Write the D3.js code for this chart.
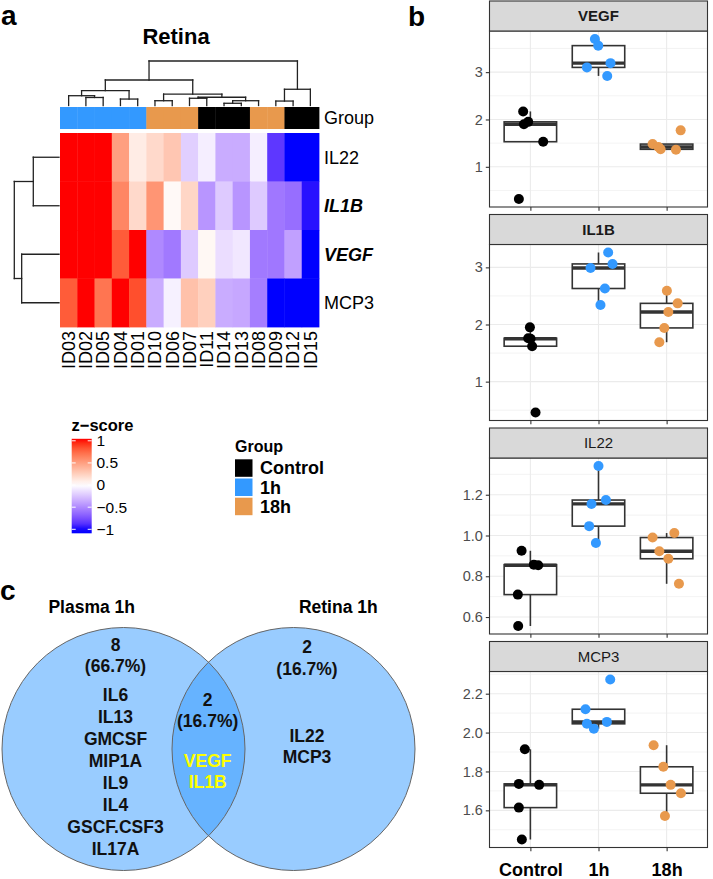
<!DOCTYPE html>
<html>
<head>
<meta charset="utf-8">
<script src="https://cdn.jsdelivr.net/npm/d3@7"></script>
<style>
  body { margin: 0; background: #fff; }
  svg text { font-family: "Liberation Sans", Arial, Helvetica, sans-serif; }
</style>
</head>
<body>
<div id="plot"></div>
<script>
// ---- panel a: heatmap data ----
const sampleIds = ['ID03', 'ID02', 'ID05', 'ID04', 'ID01', 'ID10', 'ID06', 'ID07', 'ID11', 'ID14', 'ID13', 'ID08', 'ID09', 'ID12', 'ID15'];
const sampleGroups = ['1h', '1h', '1h', '1h', '1h', '18h', '18h', '18h', 'Control', 'Control', 'Control', '18h', '18h', 'Control', 'Control'];
const heatGenes = ['IL22', 'IL1B', 'VEGF', 'MCP3'];
const heatGenesBold = ['IL1B', 'VEGF'];
const zIL22 = [1, 1, 1, 0.5, 0.1, 0.2, 0.3, -0.2, -0.07, -0.35, -0.35, -0.07, -0.85, -1, -1];
const zIL1B = [1, 1, 1, 0.62, 0.2, 0.55, 0.03, 0.22, -0.45, -0.22, -0.45, -0.22, -0.58, -0.62, -0.97];
const zVEGF = [1, 1, 1, 0.8, 1, -0.5, -0.57, -0.22, 0.04, -0.14, -0.1, -0.57, -0.58, -0.4, -1];
const zMCP3 = [0.8, 1, 0.7, 1, 0.85, -0.35, -0.06, 0.33, 0.25, -0.35, -0.37, -0.55, -1, -1, -1];
// merges: [childA, childB, height]; a number refers to an earlier merge
const colMerges = [
    ['ID02', 'ID05', 0.72], ['ID03', 0, 0.88], ['ID04', 'ID01', 0.58], [1, 2, 1.33],
    ['ID10', 'ID06', 0.43], ['ID07', 'ID11', 0.65], ['ID14', 'ID13', 0.2], [6, 'ID08', 0.43],
    [5, 7, 0.74], [4, 8, 1.03], [3, 9, 2.29], ['ID09', 'ID12', 0.4], [11, 'ID15', 1.46], [10, 12, 4.0]
];
const rowMerges = [['IL22', 'IL1B', 2.3], ['VEGF', 'MCP3', 3.34], [0, 1, 4.0]];
const groupLevels = ['Control', '1h', '18h'];
const groupColors = ['#000000', '#3399ff', '#e8994d'];
const zBreaks = [1, 0.5, 0, -0.5, -1];

// ---- panel b: boxplot data ----
const boxGenes = ['VEGF', 'IL1B', 'IL22', 'MCP3'];
const stripBold = [true, true, false, false];
const vegfValues = [[2.17, 1.95, 1.90, 1.53, 0.32], [3.70, 3.56, 3.10, 3.19, 2.92], [1.48, 1.37, 1.77, 1.36, 1.42]];
const vegfJitter = [[-0.106, -0.032, -0.095, 0.188, -0.169], [-0.053, -0.004, -0.17, 0.176, 0.128], [-0.206, -0.088, 0.206, 0.137, -0.12]];
const il1bValues = [[1.95, 1.76, 1.75, 1.62, 0.46], [3.26, 3.06, 2.99, 2.63, 2.34], [2.59, 2.37, 2.22, 1.94, 1.69]];
const il1bJitter = [[-0.007, -0.032, 0.003, 0.026, 0.076], [0.142, 0.206, -0.117, 0.094, 0.029], [0.004, 0.162, 0.025, -0.034, -0.107]];
const il22Values = [[0.925, 0.857, 0.854, 0.71, 0.556], [1.341, 1.174, 1.155, 1.046, 0.963], [1.012, 0.99, 0.923, 0.886, 0.763]];
const il22Jitter = [[-0.129, 0.051, 0.115, -0.184, -0.179], [0, 0.109, -0.103, -0.137, -0.038], [0.113, -0.206, -0.107, 0.025, 0.181]];
const mcp3Values = [[1.914, 1.736, 1.731, 1.614, 1.45], [2.273, 2.12, 2.045, 2.055, 2.02], [1.935, 1.824, 1.731, 1.688, 1.571]];
const mcp3Jitter = [[-0.081, -0.169, 0.129, -0.169, -0.125], [0.172, -0.191, -0.17, 0.123, -0.068], [-0.191, -0.048, 0.059, 0.21, -0.025]];
const vegfTicks = [1, 2, 3];
const il1bTicks = [1, 2, 3];
const il22Ticks = [0.6, 0.8, 1.0, 1.2];
const mcp3Ticks = [1.6, 1.8, 2.0, 2.2];
const vegfTickLabels = ['1', '2', '3'];
const il1bTickLabels = ['1', '2', '3'];
const il22TickLabels = ['0.6', '0.8', '1.0', '1.2'];
const mcp3TickLabels = ['1.6', '1.8', '2.0', '2.2'];

// ---- panel c: venn data ----
const vennSets = ['Plasma 1h', 'Retina 1h'];
const plasmaOnly = ['IL6', 'IL13', 'GMCSF', 'MIP1A', 'IL9', 'IL4', 'GSCF.CSF3', 'IL17A'];
const sharedGenes = ['VEGF', 'IL1B'];
const retinaOnly = ['IL22', 'MCP3'];

const svg = d3.select('#plot').append('svg')
    .attr('width', 713)
    .attr('height', 879);

// panel letters
[['a', 1, 25], ['b', 408, 26], ['c', 0, 600]].forEach(([t, x, y]) => {
    svg.append('text').attr('x', x).attr('y', y).attr('font-size', 28)
        .attr('font-weight', 'bold').text(t);
});

// ================= panel a =================
const heatX = d3.scaleBand().domain(sampleIds).range([60, 319]);
const heatY = d3.scaleBand().domain(heatGenes).range([133, 327]);
const zColor = d3.scaleLinear().domain([-1, 0, 1]).range(['blue', 'white', 'red'])
    .interpolate(d3.interpolateLab).clamp(true);
const groupColor = d3.scaleOrdinal().domain(groupLevels).range(groupColors);
const zRows = [zIL22, zIL1B, zVEGF, zMCP3];

const cells = [];
heatGenes.forEach((g, r) => sampleIds.forEach((s, c) => cells.push({g, s, z: zRows[r][c]})));

svg.append('text').attr('x', 176).attr('y', 44).attr('text-anchor', 'middle')
    .attr('font-size', 22).attr('font-weight', 'bold').text('Retina');

svg.append('g').selectAll('rect').data(cells).join('rect')
    .attr('x', d => heatX(d.s))
    .attr('y', d => heatY(d.g))
    .attr('width', heatX.bandwidth() + 0.4)
    .attr('height', heatY.bandwidth() + 0.4)
    .attr('fill', d => zColor(d.z));

// group annotation bar
svg.append('g').selectAll('rect').data(sampleIds).join('rect')
    .attr('x', d => heatX(d))
    .attr('y', 107)
    .attr('width', heatX.bandwidth() + 0.4)
    .attr('height', 22)
    .attr('fill', (d, i) => groupColor(sampleGroups[i]));

svg.append('text').attr('x', 324).attr('y', 118).attr('dy', '0.35em')
    .attr('font-size', 18).text('Group');

svg.append('g').selectAll('text').data(heatGenes).join('text')
    .attr('x', 324)
    .attr('y', d => heatY(d) + heatY.bandwidth() / 2)
    .attr('dy', '0.35em')
    .attr('font-size', 18)
    .attr('font-weight', d => heatGenesBold.includes(d) ? 'bold' : 'normal')
    .attr('font-style', d => heatGenesBold.includes(d) ? 'italic' : 'normal')
    .text(d => d);

svg.append('g').selectAll('text').data(sampleIds).join('text')
    .attr('transform', d => `translate(${heatX(d) + heatX.bandwidth() / 2},331) rotate(-90)`)
    .attr('text-anchor', 'end')
    .attr('dy', '0.35em')
    .attr('font-size', 18)
    .text(d => d);

// dendrograms
function dendroSegments(merges, leafPos) {
    const nodes = [];
    const segs = [];
    const pos = c => typeof c === 'number' ? nodes[c].p : leafPos(c);
    const ht = c => typeof c === 'number' ? nodes[c].h : 0;
    merges.forEach(([a, b, h]) => {
        const pa = pos(a), pb = pos(b);
        segs.push([pa, ht(a), pa, h], [pa, h, pb, h], [pb, h, pb, ht(b)]);
        nodes.push({p: (pa + pb) / 2, h});
    });
    return segs;
}

const colH = d3.scaleLinear().domain([0, 4]).range([105.5, 61]);
svg.append('g').selectAll('line')
    .data(dendroSegments(colMerges, s => heatX(s) + heatX.bandwidth() / 2))
    .join('line')
    .attr('x1', d => d[0]).attr('y1', d => colH(d[1]))
    .attr('x2', d => d[2]).attr('y2', d => colH(d[3]))
    .attr('stroke', '#222').attr('stroke-width', 1.3).attr('stroke-linecap', 'square');

const rowH = d3.scaleLinear().domain([0, 4]).range([59, 14.3]);
svg.append('g').selectAll('line')
    .data(dendroSegments(rowMerges, g => heatY(g) + heatY.bandwidth() / 2))
    .join('line')
    .attr('x1', d => rowH(d[1])).attr('y1', d => d[0])
    .attr('x2', d => rowH(d[3])).attr('y2', d => d[2])
    .attr('stroke', '#222').attr('stroke-width', 1.3).attr('stroke-linecap', 'square');

// z-score legend
const legY = d3.scaleLinear().domain([1, -1]).range([440.8, 529.3]);
const barTop = 438.8, barBottom = 533.3;
const grad = svg.append('defs').append('linearGradient')
    .attr('id', 'zgrad').attr('x1', 0).attr('y1', 0).attr('x2', 0).attr('y2', 1);
d3.range(0, 1.0001, 0.05).forEach(t => {
    grad.append('stop').attr('offset', t)
        .attr('stop-color', zColor(legY.invert(barTop + t * (barBottom - barTop))));
});
svg.append('text').attr('x', 71.5).attr('y', 430.5).attr('font-size', 16.5)
    .attr('font-weight', 'bold').text('z\u2212score');
svg.append('rect').attr('x', 71.7).attr('y', barTop).attr('width', 20)
    .attr('height', barBottom - barTop).attr('fill', 'url(#zgrad)');
const zTicks = svg.append('g').selectAll('g').data(zBreaks).join('g');
zTicks.append('line').attr('x1', 71.7).attr('x2', 75.7)
    .attr('y1', d => legY(d)).attr('y2', d => legY(d)).attr('stroke', '#fff');
zTicks.append('line').attr('x1', 87.7).attr('x2', 91.7)
    .attr('y1', d => legY(d)).attr('y2', d => legY(d)).attr('stroke', '#fff');
zTicks.append('text').attr('x', 96.5).attr('y', d => legY(d)).attr('dy', '0.35em')
    .attr('font-size', 15.5).text(d => d3.format('')(d));

// group legend
svg.append('text').attr('x', 235).attr('y', 451.7).attr('font-size', 16)
    .attr('font-weight', 'bold').text('Group');
const legG = svg.append('g').selectAll('g').data(groupLevels).join('g')
    .attr('transform', (d, i) => `translate(235,${459.3 + i * 19.2})`);
legG.append('rect').attr('width', 17.5).attr('height', 17.5).attr('fill', d => groupColor(d));
legG.append('text').attr('x', 25).attr('y', 8.75).attr('dy', '0.35em')
    .attr('font-size', 18).attr('font-weight', 'bold').text(d => d);

// ================= panel b =================
const boxValues = [vegfValues, il1bValues, il22Values, mcp3Values];
const boxJitter = [vegfJitter, il1bJitter, il22Jitter, mcp3Jitter];
const boxTicks = [vegfTicks, il1bTicks, il22Ticks, mcp3Ticks];
const boxTickLabels = [vegfTickLabels, il1bTickLabels, il22TickLabels, mcp3TickLabels];

const bx = {left: 489.5, right: 707.5, top0: 1, strip: 30, plot: 176, pitch: 213.5};
const xBox = d3.scalePoint().domain(groupLevels).range([bx.left, bx.right]).padding(0.6);
const step = xBox.step();

function boxStats(vals) {
    const s = vals.slice().sort(d3.ascending);
    const q1 = d3.quantileSorted(s, 0.25);
    const med = d3.quantileSorted(s, 0.5);
    const q3 = d3.quantileSorted(s, 0.75);
    const iqr = q3 - q1;
    const lo = d3.min(s.filter(v => v >= q1 - 1.5 * iqr));
    const hi = d3.max(s.filter(v => v <= q3 + 1.5 * iqr));
    return {q1, med, q3, lo, hi};
}

boxGenes.forEach((gene, p) => {
    const stripTop = bx.top0 + p * bx.pitch;
    const top = stripTop + bx.strip;
    const bottom = top + bx.plot;
    const all = boxValues[p].flat();
    const [mn, mx] = d3.extent(all);
    const pad = (mx - mn) * 0.05;
    const y = d3.scaleLinear().domain([mn - pad, mx + pad]).range([bottom, top]);
    const ticks = boxTicks[p];
    const tickStep = ticks[1] - ticks[0];
    const minor = d3.range(ticks[0] - tickStep / 2, mx + pad, tickStep)
        .filter(v => v > mn - pad && v < mx + pad);

    const g = svg.append('g');
    g.append('rect').attr('x', bx.left).attr('y', top).attr('width', bx.right - bx.left)
        .attr('height', bx.plot).attr('fill', '#fff');

    // grid
    g.selectAll('.minor').data(minor).join('line')
        .attr('x1', bx.left).attr('x2', bx.right)
        .attr('y1', d => y(d)).attr('y2', d => y(d))
        .attr('stroke', '#ebebeb').attr('stroke-width', 0.6);
    g.selectAll('.major').data(ticks).join('line')
        .attr('x1', bx.left).attr('x2', bx.right)
        .attr('y1', d => y(d)).attr('y2', d => y(d))
        .attr('stroke', '#ebebeb').attr('stroke-width', 1.1);
    g.selectAll('.vgrid').data(groupLevels).join('line')
        .attr('x1', d => xBox(d)).attr('x2', d => xBox(d))
        .attr('y1', top).attr('y2', bottom)
        .attr('stroke', '#ebebeb').attr('stroke-width', 1.1);

    // boxes
    const boxW = step * 0.77;
    groupLevels.forEach((grp, gi) => {
        const st = boxStats(boxValues[p][gi]);
        const cx = xBox(grp);
        g.append('line').attr('x1', cx).attr('x2', cx).attr('y1', y(st.q3)).attr('y2', y(st.hi))
            .attr('stroke', '#333').attr('stroke-width', 1.6);
        g.append('line').attr('x1', cx).attr('x2', cx).attr('y1', y(st.q1)).attr('y2', y(st.lo))
            .attr('stroke', '#333').attr('stroke-width', 1.6);
        g.append('rect').attr('x', cx - boxW / 2).attr('y', y(st.q3))
            .attr('width', boxW).attr('height', y(st.q1) - y(st.q3))
            .attr('fill', '#fff').attr('stroke', '#333').attr('stroke-width', 1.6);
        g.append('line').attr('x1', cx - boxW / 2).attr('x2', cx + boxW / 2)
            .attr('y1', y(st.med)).attr('y2', y(st.med))
            .attr('stroke', '#333').attr('stroke-width', 3.4);
    });

    // jittered points
    const pts = [];
    groupLevels.forEach((grp, gi) => boxValues[p][gi].forEach((v, k) =>
        pts.push({grp, v, j: boxJitter[p][gi][k]})));
    g.selectAll('circle').data(pts).join('circle')
        .attr('cx', d => xBox(d.grp) + d.j * step)
        .attr('cy', d => y(d.v))
        .attr('r', 5)
        .attr('fill', d => groupColor(d.grp));

    // panel border and strip
    g.append('rect').attr('x', bx.left).attr('y', top).attr('width', bx.right - bx.left)
        .attr('height', bx.plot).attr('fill', 'none').attr('stroke', '#333').attr('stroke-width', 1.1);
    g.append('rect').attr('x', bx.left).attr('y', stripTop).attr('width', bx.right - bx.left)
        .attr('height', bx.strip).attr('fill', '#d9d9d9').attr('stroke', '#333').attr('stroke-width', 1.1);
    g.append('text').attr('x', (bx.left + bx.right) / 2).attr('y', stripTop + bx.strip / 2)
        .attr('dy', '0.35em').attr('text-anchor', 'middle').attr('font-size', 15)
        .attr('font-weight', stripBold[p] ? 'bold' : 'normal').attr('fill', '#1a1a1a')
        .text(gene);

    // axes
    const yAxis = g.append('g').attr('transform', `translate(${bx.left},0)`)
        .call(d3.axisLeft(y).tickValues(ticks).tickFormat((d, i) => boxTickLabels[p][i])
            .tickSize(3.7).tickPadding(3));
    yAxis.select('.domain').remove();
    yAxis.selectAll('line').attr('stroke', '#333').attr('stroke-width', 1.1);
    yAxis.selectAll('text').attr('font-size', 14.5).attr('fill', '#4d4d4d')
        .attr('font-family', null);

    const last = p === boxGenes.length - 1;
    const xAxis = g.append('g').attr('transform', `translate(0,${bottom})`)
        .call(d3.axisBottom(xBox).tickSize(3.7).tickPadding(12.5)
            .tickFormat(d => last ? d : ''));
    xAxis.select('.domain').remove();
    xAxis.selectAll('line').attr('stroke', '#333').attr('stroke-width', 1.1);
    xAxis.selectAll('text').attr('font-size', 18).attr('font-weight', 'bold')
        .attr('fill', '#000').attr('font-family', null);
});

// ================= panel c =================
const total = plasmaOnly.length + sharedGenes.length + retinaOnly.length;
const pct = d3.format('.1%');
const circles = [{cx: 123.5, cy: 749, r: 121.5}, {cx: 293.5, cy: 749, r: 121.5}];

svg.append('g').selectAll('circle').data(circles).join('circle')
    .attr('cx', d => d.cx).attr('cy', d => d.cy).attr('r', d => d.r)
    .attr('fill', '#3399ff').attr('fill-opacity', 0.5);
svg.append('g').selectAll('circle').data(circles).join('circle')
    .attr('cx', d => d.cx).attr('cy', d => d.cy).attr('r', d => d.r)
    .attr('fill', 'none').attr('stroke', '#666').attr('stroke-width', 1);

svg.append('g').selectAll('text').data(vennSets).join('text')
    .attr('x', (d, i) => [91.7, 338.3][i]).attr('y', 613.3)
    .attr('text-anchor', 'middle').attr('font-size', 17.5).attr('font-weight', 'bold')
    .text(d => d);

const regions = [
    {genes: plasmaOnly, x: 115.5, countY: 650.7, genesY: 700.7, lineH: 22.1, color: '#111'},
    {genes: sharedGenes, x: 207.7, countY: 705.7, genesY: 766.7, lineH: 21.6, color: '#ffff00'},
    {genes: retinaOnly, x: 307, countY: 653.3, genesY: 741.7, lineH: 21, color: '#111'}
];
regions.forEach(r => {
    const g = svg.append('g').attr('text-anchor', 'middle').attr('font-size', 17.5)
        .attr('font-weight', 'bold');
    g.append('text').attr('x', r.x).attr('y', r.countY).attr('fill', '#111')
        .text(r.genes.length);
    g.append('text').attr('x', r.x).attr('y', r.countY + 21.5).attr('fill', '#111')
        .text(`(${pct(r.genes.length / total)})`);
    g.selectAll('.gene').data(r.genes).join('text')
        .attr('x', r.x).attr('y', (d, i) => r.genesY + i * r.lineH)
        .attr('fill', r.color).text(d => d);
});
</script>
</body>
</html>
